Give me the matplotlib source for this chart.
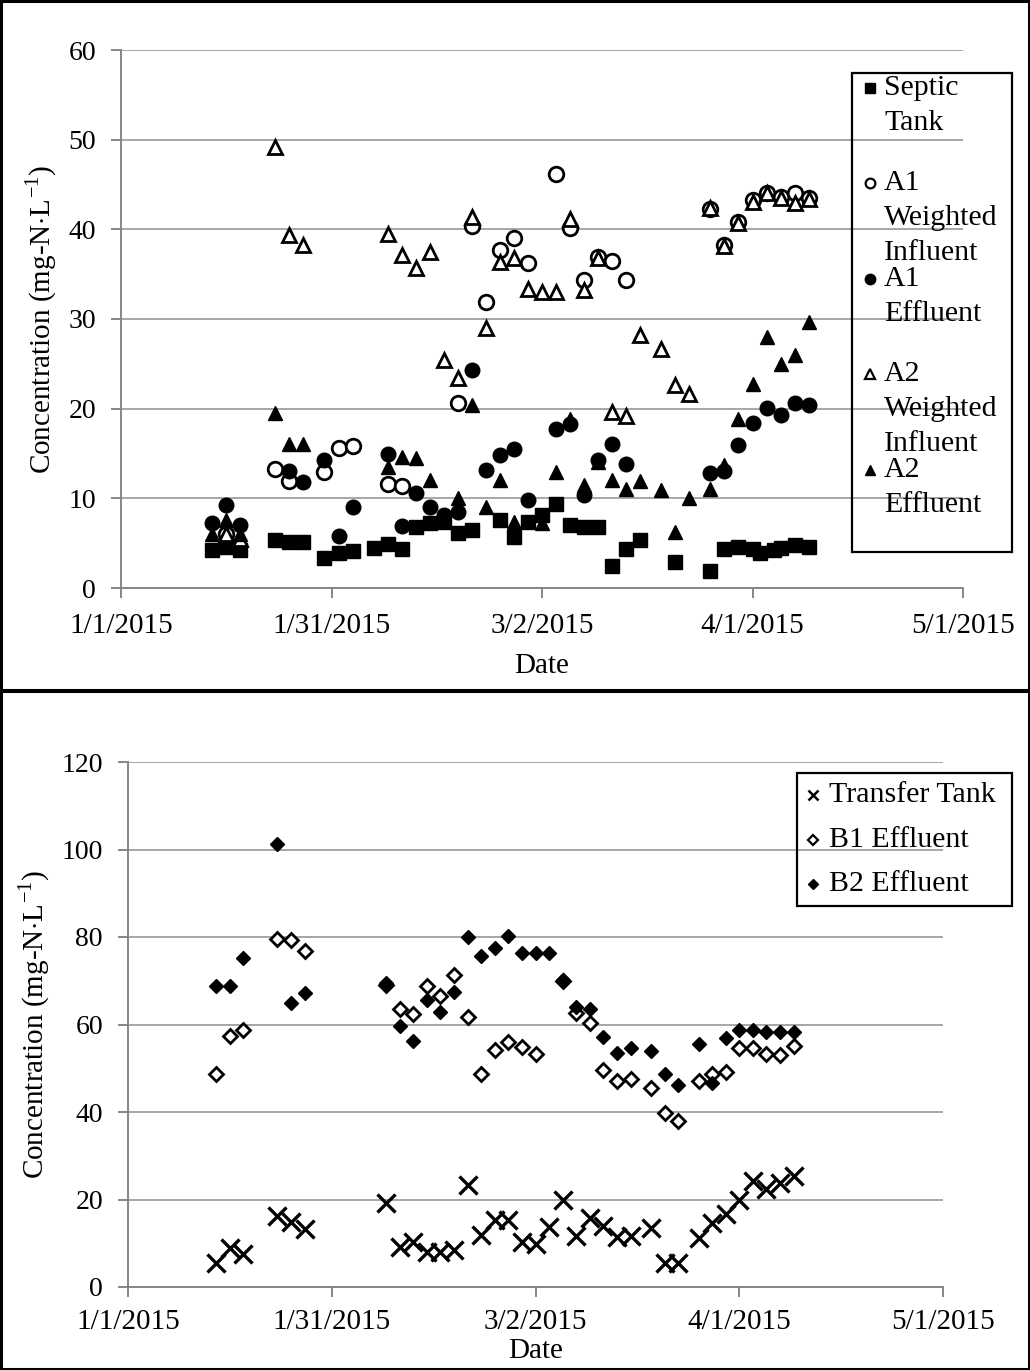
import numpy as np
import matplotlib
matplotlib.use('Agg')
import matplotlib.pyplot as plt
import matplotlib.dates as mdates
from matplotlib.ticker import FuncFormatter
from matplotlib.patches import Rectangle
from matplotlib.lines import Line2D

plt.rcParams['font.family'] = ['Liberation Serif', 'DejaVu Serif']
plt.rcParams['mathtext.fontset'] = 'custom'
plt.rcParams['mathtext.rm'] = 'Liberation Serif'

START = np.datetime64('2015-01-01')

# days after 1/1/2015 and concentrations (mg-N/L), system A
septic_days = [13, 15, 17, 22, 24, 26, 29, 31, 33, 36, 38, 40, 42, 44, 46, 48, 50, 54, 56, 58,
               60, 62, 64, 66, 68, 70, 72, 74, 79, 84, 86, 88, 90, 91, 93, 94, 96, 98]
septic_vals = [4.2, 4.6, 4.2, 5.3, 5.1, 5.1, 3.4, 3.9, 4.1, 4.5, 4.9, 4.3, 6.8, 7.2, 7.4, 6.1, 6.5, 7.6, 5.7, 7.4,
               8.1, 9.4, 7.0, 6.8, 6.8, 2.4, 4.3, 5.3, 2.9, 1.9, 4.3, 4.6, 4.3, 3.9, 4.2, 4.5, 4.8, 4.6]

a1_inf_days = [15, 22, 24, 29, 31, 33, 38, 40, 48, 50, 52, 54, 56, 58, 62, 64, 66, 68, 70, 72,
               84, 86, 88, 90, 92, 94, 96, 98]
a1_inf_vals = [6.0, 13.3, 11.9, 12.9, 15.6, 15.8, 11.6, 11.4, 20.6, 40.4, 31.9, 37.7, 39.0, 36.2, 46.2, 40.1,
               34.3, 36.9, 36.5, 34.4, 42.3, 38.2, 40.8, 43.3, 44.1, 43.6, 44.1, 43.5]

a1_eff_days = [13, 15, 17, 24, 26, 29, 31, 33, 38, 40, 42, 44, 46, 48, 50, 52, 54, 56, 58, 62,
               64, 66, 68, 70, 72, 84, 86, 88, 90, 92, 94, 96, 98]
a1_eff_vals = [7.2, 9.3, 7.0, 13.1, 11.8, 14.3, 5.8, 9.0, 15.0, 6.9, 10.6, 9.0, 8.1, 8.5, 24.3, 13.2, 14.8,
               15.5, 9.8, 17.7, 18.3, 10.4, 14.3, 16.1, 13.8, 12.8, 13.0, 15.9, 18.4, 20.1, 19.3, 20.6, 20.4]

a2_inf_days = [15, 17, 22, 24, 26, 38, 40, 42, 44, 46, 48, 50, 52, 54, 56, 58, 60, 62, 64, 66,
               68, 70, 72, 74, 77, 79, 81, 84, 86, 88, 90, 92, 94, 96, 98]
a2_inf_vals = [6.0, 5.5, 49.2, 39.4, 38.2, 39.5, 37.1, 35.7, 37.5, 25.4, 23.4, 41.4, 29.0, 36.4, 36.8, 33.4,
               33.0, 33.0, 41.2, 33.2, 36.8, 19.6, 19.2, 28.2, 26.7, 22.6, 21.6, 42.4, 38.1, 40.7, 43.1,
               44.0, 43.5, 42.9, 43.4]

a2_eff_days = [13, 15, 17, 22, 24, 26, 38, 40, 42, 44, 48, 50, 52, 54, 56, 60, 62, 64, 66, 68,
               70, 72, 74, 77, 79, 81, 84, 86, 88, 90, 92, 94, 96, 98]
a2_eff_vals = [6.0, 7.6, 6.0, 19.5, 16.1, 16.1, 13.5, 14.6, 14.5, 12.0, 10.0, 20.4, 9.0, 12.0, 7.4, 7.2,
               12.9, 18.8, 11.5, 14.0, 12.1, 11.0, 11.9, 10.9, 6.2, 10.0, 11.0, 13.7, 18.9, 22.8, 28.0,
               25.0, 26.0, 29.7]

# system B
transfer_days = [13, 15, 17, 22, 24, 26, 38, 40, 42, 44, 46, 48, 50, 52, 54, 56, 58, 60, 62, 64,
                 66, 68, 70, 72, 74, 77, 79, 81, 84, 86, 88, 90, 92, 94, 96, 98]
transfer_vals = [5.6, 8.9, 7.5, 16.2, 14.9, 13.2, 19.3, 9.1, 10.4, 8.1, 8.1, 8.5, 23.3, 11.9, 15.3, 15.3,
                 10.2, 9.8, 13.8, 19.9, 11.7, 15.8, 13.9, 11.4, 11.6, 13.6, 5.4, 5.6, 11.1, 14.6, 16.8,
                 19.9, 24.2, 22.4, 23.8, 25.4]

b1_days = [13, 15, 17, 22, 24, 26, 38, 40, 42, 44, 46, 48, 50, 52, 54, 56, 58, 60, 64, 66,
           68, 70, 72, 74, 77, 79, 81, 84, 86, 88, 90, 92, 94, 96, 98]
b1_vals = [48.7, 57.4, 58.7, 79.5, 79.3, 76.8, 69.0, 63.5, 62.4, 68.7, 66.6, 71.3, 61.8, 48.6, 54.1, 56.0,
           54.9, 53.3, 70.0, 62.6, 60.3, 49.6, 47.0, 47.5, 45.6, 39.8, 38.0, 47.0, 48.7, 49.1, 54.6,
           54.6, 53.3, 53.0, 55.0]

b2_days = [13, 15, 17, 22, 24, 26, 38, 40, 42, 44, 46, 48, 50, 52, 54, 56, 58, 60, 62, 64,
           66, 68, 70, 72, 74, 77, 79, 81, 84, 86, 88, 90, 92, 94, 96, 98]
b2_vals = [68.9, 68.7, 75.3, 101.3, 65.0, 67.3, 69.5, 59.6, 56.2, 65.7, 62.9, 67.5, 80.1, 75.7, 77.6, 80.3,
           76.3, 76.3, 76.3, 70.2, 63.9, 63.5, 57.1, 53.6, 54.7, 54.0, 48.6, 46.1, 55.5, 46.6, 56.9,
           58.7, 58.7, 58.3, 58.3, 58.3]

tick_days = [0, 30, 60, 90, 120]

W, H = 1030, 1370
GRID = '#a6a6a6'
AXC = '#868686'
FS_XTICK = 21
FS_YTICK = 20
FS_LAB = 21
FS_LEG = 21.5


def to_dates(days):
    return START + np.array(days, dtype='timedelta64[D]')


def fx(px):
    return px / W


def fy(py):
    return 1 - py / H


def date_fmt(x, pos):
    d = mdates.num2date(x)
    return f'{d.month}/{d.day}/{d.year}'


def style_axes(ax, ymax, ystep, xpad, xlabpad):
    ax.set_xlim(to_dates([0])[0], to_dates([120])[0])
    ax.set_ylim(0, ymax)
    ax.set_xticks(to_dates(tick_days))
    ax.xaxis.set_major_formatter(FuncFormatter(date_fmt))
    ax.set_yticks(np.arange(0, ymax + 1, ystep))
    ax.yaxis.grid(True, color=GRID, lw=1.4)
    ax.set_axisbelow(True)
    for s in ['top', 'right']:
        ax.spines[s].set_visible(False)
    for s in ['left', 'bottom']:
        ax.spines[s].set_color(AXC)
        ax.spines[s].set_linewidth(1.4)
    ax.tick_params(axis='both', colors=AXC, width=1.4, length=7, labelcolor='black')
    ax.tick_params(axis='x', pad=xpad, labelsize=FS_XTICK)
    ax.tick_params(axis='y', pad=11, labelsize=FS_YTICK)
    ax.set_ylabel('Concentration (mg-N$\\cdot$L$^{-1}$)', fontsize=FS_LAB, labelpad=7)
    ax.set_xlabel('Date', fontsize=FS_LAB, labelpad=xlabpad)


def legend_box(x0, y0, x1, y1):
    fig.add_artist(Rectangle((fx(x0), fy(y1)), fx(x1) - fx(x0), fy(y0) - fy(y1),
                             transform=fig.transFigure, fill=False, ec='black', lw=1.6))


def legend_entry(mx, tx, y, lines, dy, **mk):
    fig.add_artist(Line2D([fx(mx)], [fy(y)], transform=fig.transFigure, ls='none', **mk))
    for i, t in enumerate(lines):
        fig.text(fx(tx), fy(y + i * dy), t, fontsize=FS_LEG, va='center', ha='left')


fig = plt.figure(figsize=(W / 100, H / 100), dpi=100)

# panel frames
fig.add_artist(Rectangle((0.001, fy(690)), 0.998, 1 - fy(690) - 0.001, transform=fig.transFigure,
                         fill=False, ec='black', lw=2.2))
fig.add_artist(Rectangle((0.001, 0.001), 0.998, fy(691) - 0.001, transform=fig.transFigure,
                         fill=False, ec='black', lw=2.2))

# top panel
ax1 = fig.add_axes([fx(121), fy(588), fx(963) - fx(121), fy(50) - fy(588)])
style_axes(ax1, 60, 10, 11, 10)
ax1.plot(to_dates(septic_days), septic_vals, ls='none', marker='s', ms=9.5, mfc='black', mec='black')
ax1.plot(to_dates(a1_inf_days), a1_inf_vals, ls='none', marker='o', ms=10.5, mfc='white', mec='black', mew=2)
ax1.plot(to_dates(a1_eff_days), a1_eff_vals, ls='none', marker='o', ms=10.5, mfc='black', mec='black')
ax1.plot(to_dates(a2_inf_days), a2_inf_vals, ls='none', marker='^', ms=10.5, mfc='white', mec='black', mew=2)
ax1.plot(to_dates(a2_eff_days), a2_eff_vals, ls='none', marker='^', ms=10.5, mfc='black', mec='black')

legend_box(852, 73, 1012, 552)
legend_entry(870, 884, 88, ['Septic', 'Tank'], 35, marker='s', ms=6.5, mfc='black', mec='black')
legend_entry(870, 884, 183, ['A1', 'Weighted', 'Influent'], 35, marker='o', ms=7, mfc='white', mec='black', mew=1.6)
legend_entry(870, 884, 279, ['A1', 'Effluent'], 35, marker='o', ms=7.5, mfc='black', mec='black')
legend_entry(870, 884, 374, ['A2', 'Weighted', 'Influent'], 35, marker='^', ms=7, mfc='white', mec='black', mew=1.6)
legend_entry(870, 884, 470, ['A2', 'Effluent'], 35, marker='^', ms=7.5, mfc='black', mec='black')

# bottom panel
ax2 = fig.add_axes([fx(128), fy(1287), fx(943) - fx(128), fy(762) - fy(1287)])
style_axes(ax2, 120, 20, 9, 2)
ax2.plot(to_dates(transfer_days), transfer_vals, ls='none', marker='x', ms=12.5, mec='black', mew=2.4)
ax2.plot(to_dates(b1_days), b1_vals, ls='none', marker='D', ms=7.5, mfc='white', mec='black', mew=2)
ax2.plot(to_dates(b2_days), b2_vals, ls='none', marker='D', ms=7.5, mfc='black', mec='black')

legend_box(797, 773, 1012, 906)
legend_entry(813, 829, 795, ['Transfer Tank'], 44, marker='x', ms=7, mec='black', mew=1.8)
legend_entry(813, 829, 840, ['B1 Effluent'], 44, marker='D', ms=5, mfc='white', mec='black', mew=1.6)
legend_entry(813, 829, 884, ['B2 Effluent'], 44, marker='D', ms=5.5, mfc='black', mec='black')

fig.savefig('out.png', dpi=100)
